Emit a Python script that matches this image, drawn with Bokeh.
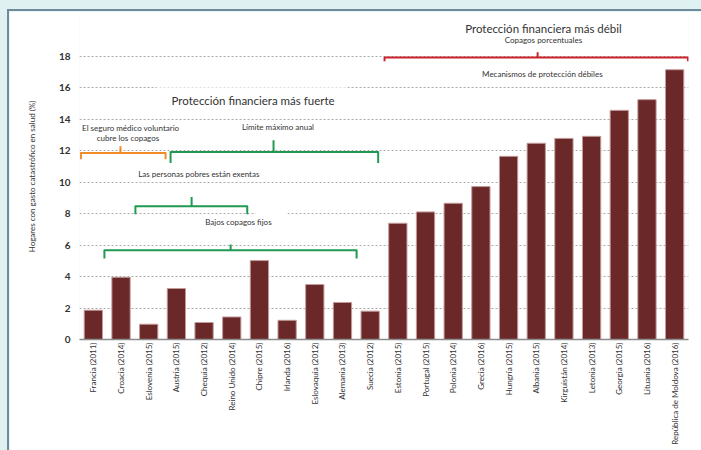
from bokeh.plotting import figure
from bokeh.layouts import column
from bokeh.models import FixedTicker, Label
from bokeh.embed import file_html
from bokeh.resources import INLINE

countries = ["Francia (2011)", "Croacia (2014)", "Eslovenia (2015)", "Austria (2015)",
             "Chequia (2012)", "Reino Unido (2014)", "Chipre (2015)", "Irlanda (2016)",
             "Eslovaquia (2012)", "Alemania (2013)", "Suecia (2012)", "Estonia (2015)",
             "Portugal (2015)", "Polonia (2014)", "Grecia (2016)", "Hungría (2015)",
             "Albania (2015)", "Kirguistán (2014)", "Letonia (2013)", "Georgia (2015)",
             "Lituania (2016)", "República de Moldova (2016)"]
values = [1.86, 3.95, 0.97, 3.24, 1.08, 1.43, 5.01, 1.22, 3.49, 2.35, 1.80, 7.38,
          8.10, 8.65, 9.71, 11.63, 12.46, 12.77, 12.90, 14.55, 15.23, 17.13]
y_ticks = [0, 2, 4, 6, 8, 10, 12, 14, 16, 18]

FONT = "Lato"

p = figure(x_range=countries, y_range=(0, 20.7),
           frame_width=609, frame_height=326,
           min_border_left=70, min_border_right=13, min_border_top=2, min_border_bottom=111,
           output_backend="svg", toolbar_location=None)
p.margin = (11, 0, 0, 9)
p.styles = {"outline": "2px solid #6f8a9c"}
p.background_fill_color = "white"
p.border_fill_color = "white"
p.outline_line_color = None
p.x_range.range_padding = 0

# axes
p.yaxis.ticker = FixedTicker(ticks=y_ticks)
p.yaxis.axis_line_color = None
p.yaxis.major_tick_line_color = None
p.yaxis.minor_tick_line_color = None
p.yaxis.major_tick_out = 0
p.yaxis.major_tick_in = 0
p.yaxis.major_label_text_font = FONT
p.yaxis.major_label_text_font_size = "10px"
p.yaxis.major_label_text_font_style = "bold"
p.yaxis.major_label_text_color = "#333333"
p.yaxis.major_label_standoff = 9
p.yaxis.axis_label = "Hogares con gasto catastrófico en salud (%)"
p.yaxis.axis_label_text_font = FONT
p.yaxis.axis_label_text_font_size = "8px"
p.yaxis.axis_label_text_font_style = "normal"
p.yaxis.axis_label_text_color = "#333333"
p.yaxis.axis_label_standoff = 19

p.xaxis.axis_line_color = "#8c8c8c"
p.xaxis.axis_line_width = 1.5
p.xaxis.major_tick_line_color = None
p.xaxis.minor_tick_line_color = None
p.xaxis.major_tick_out = 0
p.xaxis.major_tick_in = 0
p.xaxis.major_label_orientation = 1.5708
p.xaxis.major_label_text_font = FONT
p.xaxis.major_label_text_font_size = "8px"
p.xaxis.major_label_text_color = "#333333"
p.xaxis.major_label_standoff = 3

p.xgrid.grid_line_color = None
p.ygrid.ticker = FixedTicker(ticks=y_ticks)
p.ygrid.grid_line_color = "#aaaaaa"
p.ygrid.grid_line_dash = "2 2"
p.ygrid.grid_line_width = 1

# white masks over the gridlines behind annotation texts: (left, right, bottom, top, alpha)
masks = [(2.78, 9.68, 15.85, 16.15, 0.65), (6.36, 7.51, 7.85, 8.15, 1.0)]
for l, r, b, t, a in masks:
    p.quad(left=[l], right=[r], bottom=[b], top=[t], fill_color="white",
           fill_alpha=a, line_color=None)

p.vbar(x=countries, top=values, width=0.66, fill_color="#6a2829",
       line_color="#c49a9a", line_width=1)

# brackets: (x_left, x_right, y_bar, y_end, x_tick, y_tick, color, width)
brackets = [
    (11.02, 21.98, 17.90, 17.67, 16.55, 18.24, "#cc2229", 2),
    (0.05, 3.11, 11.85, 11.45, 1.48, 12.27, "#f08c28", 2),
    (3.29, 10.79, 11.91, 11.21, 7.01, 12.65, "#1f9a50", 2),
    (2.02, 6.06, 8.46, 7.95, 4.05, 9.05, "#1f9a50", 2),
    (0.90, 10.01, 5.67, 5.14, 5.46, 6.03, "#1f9a50", 2),
]
for xl, xr, yb, ye, xt, yt, c, w in brackets:
    p.line(x=[xl, xl, xr, xr], y=[ye, yb, yb, ye], line_color=c, line_width=w,
           line_join="round")
    p.line(x=[xt, xt], y=[yb, yt], line_color=c, line_width=w)

# texts: (x, y, text, size)
texts = [
    (16.76, 19.77, "Protección financiera más débil", "11.5px"),
    (16.76, 19.00, "Copagos porcentuales", "8px"),
    (16.72, 16.84, "Mecanismos de protección débiles", "8px"),
    (6.27, 15.19, "Protección financiera más fuerte", "11.5px"),
    (1.85, 13.42, "El seguro médico voluntario", "8px"),
    (1.75, 12.78, "cubre los copagos", "8px"),
    (7.17, 13.48, "Límite máximo anual", "8px"),
    (4.31, 10.48, "Las personas pobres están exentas", "8px"),
    (5.74, 7.47, "Bajos copagos fijos", "8px"),
]
for x, y, t, s in texts:
    p.add_layout(Label(x=x, y=y, text=t, text_font=FONT, text_font_size=s,
                       text_color="#333333", text_align="center",
                       text_baseline="middle"))

layout = column(p, styles={"background-color": "#dff1f1"}, width=701, height=450)
open("out.html", "w").write(file_html(layout, INLINE))
